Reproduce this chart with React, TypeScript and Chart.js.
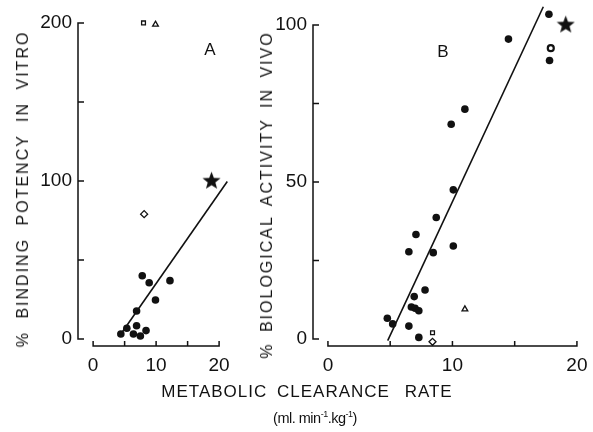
import React, { useEffect, useRef } from "react";
import { Chart, registerables } from "chart.js";
Chart.register(...registerables);

const W = 593;
const H = 432;
const FONT = "'Liberation Sans', Arial, Helvetica, sans-serif";
const INK = "#111";

// ---- Panel A : % binding potency in vitro ----
const aDotsX = [7.8, 8.9, 12.2, 9.9, 6.9, 6.9, 5.35, 4.4, 6.4, 7.5, 8.4];
const aDotsY = [40, 35.6, 36.9, 24.7, 17.7, 8.4, 6.8, 3.2, 3.2, 1.9, 5.3];
const aSquare = [8.0, 200];
const aTriangle = [9.9, 199];
const aDiamond = [8.1, 79];
const aStar = [18.8, 100.5];
const aLineX = [4.3, 21.3];
const aLineY = [2.5, 99.6];

// ---- Panel B : % biological activity in vivo ----
const bDotsX = [17.75, 14.5, 17.8, 11.0, 9.9, 10.07, 8.7, 7.07, 6.5, 8.46, 10.07, 7.8, 6.93, 6.7, 7.0, 7.3, 4.77, 5.2, 6.5, 7.3];
const bDotsY = [103.4, 95.5, 88.7, 73.2, 68.4, 47.5, 38.7, 33.3, 27.8, 27.5, 29.6, 15.6, 13.5, 10.2, 9.8, 9.0, 6.6, 4.8, 4.1, 0.5];
const bOpenCircle = [17.9, 92.6];
const bSquare = [8.4, 2.0];
const bTriangle = [11.0, 9.5];
const bDiamond = [8.4, -0.9];
const bStar = [19.1, 100.3];
const bLineX = [4.8, 17.3];
const bLineY = [-0.5, 105.8];

// ---- ticks ----
const xLabelTicks = [0, 10, 20];
const xMarkTicks = [0, 5, 10, 15, 20];
const aYLabelTicks = [0, 100, 200];
const aYMarkTicks = [0, 50, 100, 150, 200];
const bYLabelTicks = [0, 50, 100];
const bYMarkTicks = [0, 25, 50, 75, 100];

const pts = (xs: number[], ys: number[]) => xs.map((x, i) => ({ x, y: ys[i] }));
const pt = (p: number[]) => [{ x: p[0], y: p[1] }];

function makeStar(size: number) {
  const c = document.createElement("canvas");
  c.width = size;
  c.height = size;
  const ctx = c.getContext("2d")!;
  const cx = size / 2, cy = size / 2 + 0.9;
  const R = size / 2, r = R * 0.42;
  ctx.beginPath();
  for (let i = 0; i < 10; i++) {
    const ang = -Math.PI / 2 + (i * Math.PI) / 5;
    const rad = i % 2 === 0 ? R : r;
    const px = cx + rad * Math.cos(ang);
    const py = cy + rad * Math.sin(ang);
    if (i === 0) ctx.moveTo(px, py);
    else ctx.lineTo(px, py);
  }
  ctx.closePath();
  ctx.fillStyle = INK;
  ctx.fill();
  return c;
}

const detachedAxes = {
  id: "detachedAxes",
  afterDatasetsDraw(chart: any, _args: any, opts: any) {
    const { ctx, chartArea, scales } = chart;
    const xs = scales.x, ys = scales.y;
    ctx.save();
    ctx.strokeStyle = INK;
    ctx.lineWidth = 1.5;
    ctx.lineCap = "butt";
    const xm: number[] = opts.xMarks;
    const yb = chartArea.bottom;
    ctx.beginPath();
    ctx.moveTo(xs.getPixelForValue(xm[0]), yb);
    ctx.lineTo(xs.getPixelForValue(xm[xm.length - 1]), yb);
    xm.forEach((v) => {
      const px = xs.getPixelForValue(v);
      ctx.moveTo(px, yb + 0.75);
      ctx.lineTo(px, yb - 5);
    });
    ctx.stroke();
    const ym: number[] = opts.yMarks;
    const xl = chartArea.left;
    ctx.beginPath();
    ctx.moveTo(xl, ys.getPixelForValue(ym[0]));
    ctx.lineTo(xl, ys.getPixelForValue(ym[ym.length - 1]));
    ym.forEach((v) => {
      const py = ys.getPixelForValue(v);
      ctx.moveTo(xl - 0.75, py);
      ctx.lineTo(xl + 6, py);
    });
    ctx.stroke();
    ctx.restore();
  },
};

function buildConfig(p: {
  dots: any[];
  extra: any[];
  line: any[];
  xMin: number; xMax: number; yMin: number; yMax: number;
  yLabels: number[]; yMarks: number[];
  padding: any; yWidth: number;
}) {
  const tickFont = { family: FONT, size: 19 };
  return {
    type: "scatter",
    data: {
      datasets: [
        {
          data: p.line,
          showLine: true,
          borderColor: INK,
          borderWidth: 1.6,
          pointRadius: 0,
          clip: false,
        },
        {
          data: p.dots,
          pointStyle: "circle",
          pointRadius: 3.8,
          backgroundColor: INK,
          borderColor: INK,
          borderWidth: 0,
          clip: false,
        },
        ...p.extra.map((d) => ({ clip: false, ...d })),
      ],
    },
    options: {
      responsive: false,
      animation: false,
      events: [],
      layout: { padding: p.padding, autoPadding: false },
      plugins: {
        legend: { display: false },
        tooltip: { enabled: false },
        detachedAxes: { xMarks: xMarkTicks, yMarks: p.yMarks },
      },
      scales: {
        x: {
          type: "linear",
          min: p.xMin,
          max: p.xMax,
          grid: { display: false, drawTicks: false },
          border: { display: false },
          ticks: { padding: 8, color: INK, font: tickFont, maxRotation: 0, autoSkip: false },
          afterBuildTicks: (s: any) => {
            s.ticks = xLabelTicks.map((v) => ({ value: v }));
          },
          afterFit: (s: any) => {
            s.height = 40;
            s.paddingLeft = 0;
            s.paddingRight = 0;
          },
        },
        y: {
          type: "linear",
          min: p.yMin,
          max: p.yMax,
          grid: { display: false, drawTicks: false },
          border: { display: false },
          ticks: { padding: 6, color: INK, font: tickFont, autoSkip: false },
          afterBuildTicks: (s: any) => {
            s.ticks = p.yLabels.map((v) => ({ value: v }));
          },
          afterFit: (s: any) => {
            s.width = p.yWidth;
            s.paddingTop = 0;
            s.paddingBottom = 0;
          },
        },
      },
    },
    plugins: [detachedAxes],
  };
}

const openStyle = (style: string, radius: number) => ({
  pointStyle: style,
  pointRadius: radius,
  backgroundColor: "#fff",
  borderColor: INK,
  borderWidth: 1.3,
});

export default function App() {
  const refA = useRef<HTMLCanvasElement>(null);
  const refB = useRef<HTMLCanvasElement>(null);

  useEffect(() => {
    const star = makeStar(19);
    const cfgA = buildConfig({
      dots: pts(aDotsX, aDotsY),
      line: pts(aLineX, aLineY),
      extra: [
        { data: pt(aSquare), ...openStyle("rect", 2.7) },
        { data: pt(aTriangle), ...openStyle("triangle", 3.3) },
        { data: pt(aDiamond), ...openStyle("rectRot", 3.5) },
        { data: pt(aStar), pointStyle: star, pointRadius: 9 },
      ],
      xMin: -2.4, xMax: 22, yMin: -4.5, yMax: 205,
      yLabels: aYLabelTicks, yMarks: aYMarkTicks,
      padding: { left: 0, right: 361.3, top: 15, bottom: 45.9 },
      yWidth: 78,
    });
    const cfgB = buildConfig({
      dots: pts(bDotsX, bDotsY),
      line: pts(bLineX, bLineY),
      extra: [
        { data: pt(bOpenCircle), pointStyle: "circle", pointRadius: 3, backgroundColor: "#fff", borderColor: INK, borderWidth: 2.2 },
        { data: pt(bSquare), ...openStyle("rect", 2.7) },
        { data: pt(bTriangle), ...openStyle("triangle", 3.3) },
        { data: pt(bDiamond), ...openStyle("rectRot", 3.5) },
        { data: pt(bStar), pointStyle: star, pointRadius: 9 },
      ],
      xMin: -1.2, xMax: 20.6, yMin: -2.2, yMax: 107,
      yLabels: bYLabelTicks, yMarks: bYMarkTicks,
      padding: { left: 0, right: 8.6, top: 3, bottom: 46.1 },
      yWidth: 313,
    });
    const a = new Chart(refA.current!, cfgA as any);
    const b = new Chart(refB.current!, cfgB as any);
    return () => {
      a.destroy();
      b.destroy();
    };
  }, []);

  const abs: React.CSSProperties = { position: "absolute", left: 0, top: 0 };
  const text = (s: React.CSSProperties): React.CSSProperties => ({
    position: "absolute",
    whiteSpace: "nowrap",
    fontFamily: FONT,
    color: INK,
    lineHeight: 1,
    ...s,
  });

  return (
    <div style={{ position: "fixed", left: 0, top: 0, width: W, height: H, background: "#fff", overflow: "hidden" }}>
      <canvas ref={refA} width={W} height={H} style={abs} />
      <canvas ref={refB} width={W} height={H} style={abs} />
      <div style={text({ left: 23, top: 188.5, fontSize: 16, letterSpacing: "2px", wordSpacing: "6px", transform: "translate(-50%,-50%) rotate(-90deg)" })}>
        % BINDING POTENCY IN VITRO
      </div>
      <div style={text({ left: 267, top: 195, fontSize: 16, letterSpacing: "2px", wordSpacing: "4px", transform: "translate(-50%,-50%) rotate(-90deg)" })}>
        % BIOLOGICAL ACTIVITY IN VIVO
      </div>
      <div style={text({ left: 210, top: 49, fontSize: 17, transform: "translate(-50%,-50%)" })}>A</div>
      <div style={text({ left: 443, top: 51, fontSize: 17, transform: "translate(-50%,-50%)" })}>B</div>
      <div style={text({ left: 307, top: 391, fontSize: 17, letterSpacing: "1px", wordSpacing: "4px", transform: "translate(-50%,-50%)" })}>
        METABOLIC CLEARANCE <span style={{ marginLeft: 5 }}>RATE</span>
      </div>
      <div style={text({ left: 315, top: 418, fontSize: 14.5, letterSpacing: "-0.5px", transform: "translate(-50%,-50%)" })}>
        (ml. min<sup style={{ fontSize: 9 }}>-1</sup>.kg<sup style={{ fontSize: 9 }}>-1</sup>)
      </div>
    </div>
  );
}
